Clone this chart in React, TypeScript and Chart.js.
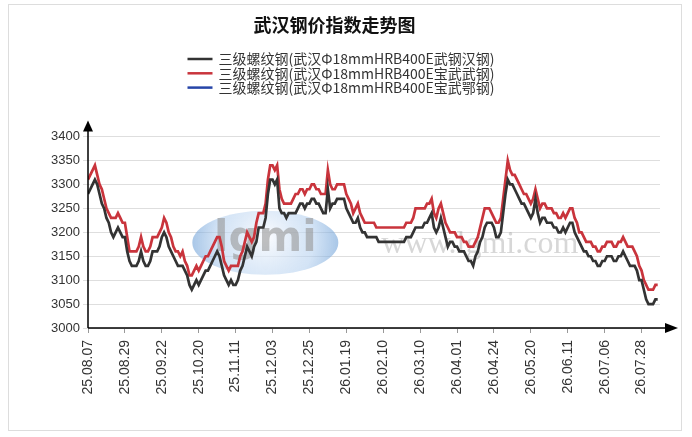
import React, { useEffect, useRef } from 'react';
import { Chart, registerables } from 'chart.js';

Chart.register(...registerables);

// one label every 16 trading days
const TICK_EVERY = 16;
const tickLabels = [
  '25.08.07', '25.08.29', '25.09.22', '25.10.20', '25.11.11', '25.12.03', '25.12.25', '26.01.19',
  '26.02.10', '26.03.10', '26.04.01', '26.04.24', '26.05.20', '26.06.11', '26.07.06', '26.07.28',
];

const seriesNames = [
  '三级螺纹钢(武汉Φ18mmHRB400E武钢汉钢)',
  '三级螺纹钢(武汉Φ18mmHRB400E宝武武钢)',
  '三级螺纹钢(武汉Φ18mmHRB400E宝武鄂钢)',
];

// 武钢汉钢
const wugangHangang = [
  3280, 3290, 3300, 3310, 3300, 3280, 3260, 3250, 3230, 3220,
  3200, 3190, 3200, 3210, 3200, 3190, 3190, 3160, 3140, 3130,
  3130, 3130, 3140, 3160, 3140, 3130, 3130, 3140, 3160, 3160,
  3160, 3170, 3190, 3200, 3190, 3170, 3160, 3150, 3140, 3130,
  3130, 3130, 3120, 3110, 3090, 3080, 3090, 3100, 3090, 3100,
  3110, 3120, 3120, 3130, 3140, 3150, 3160, 3150, 3130, 3110,
  3100, 3090, 3100, 3090, 3090, 3100, 3120, 3130, 3150, 3170,
  3160, 3150, 3170, 3180, 3210, 3210, 3210, 3230, 3280, 3310,
  3310, 3300, 3310, 3250, 3240, 3240, 3230, 3240, 3240, 3240,
  3240, 3250, 3260, 3260, 3250, 3260, 3260, 3270, 3270, 3260,
  3260, 3250, 3240, 3240, 3290, 3250, 3260, 3260, 3270, 3270,
  3270, 3270, 3250, 3240, 3230, 3220, 3220, 3230, 3210, 3200,
  3200, 3190, 3190, 3190, 3190, 3190, 3180, 3180, 3180, 3180,
  3180, 3180, 3180, 3180, 3180, 3180, 3180, 3180, 3190, 3190,
  3190, 3200, 3210, 3210, 3210, 3210, 3220, 3220, 3230, 3240,
  3210, 3200, 3210, 3230, 3210, 3190, 3170, 3180, 3180, 3170,
  3170, 3160, 3160, 3160, 3150, 3140, 3140, 3130, 3150, 3160,
  3180, 3190, 3210, 3220, 3220, 3220, 3210, 3190, 3190, 3200,
  3240, 3280, 3310, 3300, 3300, 3290, 3280, 3270, 3260, 3260,
  3250, 3240, 3230, 3240, 3270, 3240, 3220, 3230, 3230, 3220,
  3220, 3220, 3210, 3210, 3200, 3200, 3210, 3200, 3210, 3220,
  3220, 3200, 3190, 3180, 3170, 3160, 3160, 3150, 3150, 3140,
  3140, 3130, 3130, 3140, 3140, 3150, 3150, 3150, 3140, 3140,
  3150, 3150, 3160, 3150, 3140, 3130, 3130, 3130, 3120, 3100,
  3100, 3080, 3060, 3050, 3050, 3050, 3060, 3060,
];

// 宝武武钢
const baowuWugang = [
  3310, 3320, 3330, 3340, 3320, 3300, 3290, 3270, 3250, 3240,
  3230, 3230, 3230, 3240, 3230, 3220, 3220, 3190, 3160, 3160,
  3160, 3160, 3170, 3190, 3170, 3160, 3160, 3170, 3190, 3190,
  3190, 3200, 3210, 3230, 3220, 3200, 3190, 3170, 3160, 3160,
  3150, 3160, 3140, 3130, 3110, 3110, 3120, 3130, 3120, 3130,
  3140, 3150, 3150, 3160, 3170, 3180, 3190, 3190, 3170, 3140,
  3130, 3120, 3130, 3130, 3130, 3130, 3150, 3160, 3180, 3200,
  3190, 3180, 3190, 3220, 3240, 3240, 3240, 3260, 3310, 3340,
  3340, 3330, 3340, 3290, 3270, 3260, 3260, 3260, 3260, 3270,
  3280, 3280, 3290, 3290, 3280, 3290, 3290, 3300, 3300, 3290,
  3290, 3280, 3280, 3280, 3330, 3300, 3290, 3290, 3300, 3300,
  3300, 3300, 3280, 3270, 3260, 3240, 3250, 3260, 3240, 3230,
  3220, 3220, 3220, 3220, 3220, 3210, 3210, 3210, 3210, 3210,
  3210, 3210, 3210, 3210, 3210, 3210, 3210, 3210, 3220, 3220,
  3220, 3230, 3250, 3250, 3250, 3250, 3250, 3260, 3260, 3270,
  3240, 3230, 3250, 3260, 3240, 3220, 3210, 3200, 3200, 3200,
  3190, 3190, 3190, 3180, 3180, 3170, 3170, 3170, 3180, 3190,
  3210, 3230, 3250, 3250, 3250, 3240, 3230, 3220, 3220, 3230,
  3270, 3310, 3350, 3330, 3320, 3320, 3310, 3300, 3290, 3280,
  3280, 3270, 3260, 3270, 3290, 3270, 3250, 3260, 3260, 3250,
  3250, 3250, 3240, 3240, 3230, 3230, 3240, 3230, 3240, 3250,
  3250, 3230, 3220, 3200, 3200, 3190, 3180, 3180, 3180, 3170,
  3170, 3160, 3160, 3170, 3170, 3180, 3180, 3180, 3170, 3170,
  3180, 3180, 3190, 3180, 3170, 3170, 3170, 3160, 3150, 3130,
  3120, 3100, 3090, 3080, 3080, 3080, 3090, 3090,
];

// 宝武鄂钢: no values shown in the chart
const baowuEgang: number[] = [];

const toPoints = (arr: number[]) => arr.map((y, x) => ({ x, y }));

// watermark behind the lines
const watermark = {
  id: 'watermark',
  beforeDatasetsDraw(chart: any) {
    const { ctx, chartArea: a } = chart;
    const w = a.right - a.left;
    const h = a.bottom - a.top;
    const cx = a.left + w * 0.31;
    const cy = a.top + h * 0.555;
    ctx.save();
    const g = ctx.createRadialGradient(cx, cy - 6, 4, cx, cy, 78);
    g.addColorStop(0, 'rgba(245,248,253,0.75)');
    g.addColorStop(0.6, 'rgba(175,205,238,0.55)');
    g.addColorStop(1, 'rgba(95,150,210,0.6)');
    ctx.fillStyle = g;
    ctx.beginPath();
    ctx.ellipse(cx, cy, 73, 32, 0, 0, Math.PI * 2);
    ctx.fill();
    ctx.textAlign = 'center';
    ctx.textBaseline = 'middle';
    ctx.font = 'bold 42px "DejaVu Sans"';
    ctx.fillStyle = 'rgba(150,150,150,0.6)';
    ctx.fillText('lgmi', cx, cy - 3);
    ctx.font = '32px "Liberation Serif"';
    ctx.fillStyle = 'rgba(140,140,140,0.35)';
    ctx.fillText('www.lgmi.com', a.left + w * 0.685, a.top + h * 0.565);
    ctx.restore();
  },
};

// black axis lines with arrow heads
const axisArrows = {
  id: 'axisArrows',
  afterDatasetsDraw(chart: any) {
    const { ctx, chartArea: { left, right, top, bottom } } = chart;
    ctx.save();
    ctx.strokeStyle = '#000';
    ctx.fillStyle = '#000';
    ctx.lineWidth = 1.5;
    ctx.beginPath();
    ctx.moveTo(left, bottom);
    ctx.lineTo(left, top - 6);
    ctx.moveTo(left, bottom);
    ctx.lineTo(right + 6, bottom);
    ctx.stroke();
    ctx.beginPath();
    ctx.moveTo(left, top - 16);
    ctx.lineTo(left - 5, top - 5);
    ctx.lineTo(left + 5, top - 5);
    ctx.closePath();
    ctx.fill();
    ctx.beginPath();
    ctx.moveTo(right + 18, bottom);
    ctx.lineTo(right + 5, bottom - 5);
    ctx.lineTo(right + 5, bottom + 5);
    ctx.closePath();
    ctx.fill();
    ctx.restore();
  },
};

// legend: one series per row, centred under the title
const stackedLegend = {
  id: 'stackedLegend',
  afterDraw(chart: any) {
    const { ctx } = chart;
    const sets = chart.data.datasets;
    ctx.save();
    ctx.font = '14px "Noto Sans CJK SC"';
    const textW = Math.max(...sets.map((d: any) => ctx.measureText(d.label).width));
    const blockW = 31 + textW;
    const x0 = (chart.width - blockW) / 2 - 4;
    sets.forEach((d: any, i: number) => {
      const y = 54 + i * 14.3;
      ctx.strokeStyle = d.borderColor;
      ctx.lineWidth = 2.5;
      ctx.beginPath();
      ctx.moveTo(x0, y);
      ctx.lineTo(x0 + 25, y);
      ctx.stroke();
      ctx.fillStyle = '#333';
      ctx.textAlign = 'left';
      ctx.textBaseline = 'middle';
      ctx.fillText(d.label, x0 + 31, y);
    });
    ctx.restore();
  },
};

export default function App() {
  const ref = useRef<HTMLCanvasElement | null>(null);

  useEffect(() => {
    if (!ref.current) return;
    Chart.defaults.font.family = '"Liberation Sans", Arial, sans-serif';

    const chart = new Chart(ref.current, {
      type: 'line',
      data: {
        datasets: [
          { label: seriesNames[0], data: toPoints(wugangHangang), borderColor: '#333333' },
          { label: seriesNames[1], data: toPoints(baowuWugang), borderColor: '#c9343c' },
          { label: seriesNames[2], data: toPoints(baowuEgang), borderColor: '#2645a8' },
        ].map((d) => ({ ...d, borderWidth: 2.7, pointRadius: 0, tension: 0, fill: false })),
      },
      options: {
        animation: false,
        responsive: true,
        maintainAspectRatio: false,
        events: [],
        layout: { padding: { left: 0, right: 21, top: 0, bottom: 0 } },
        plugins: {
          legend: { display: false },
          tooltip: { enabled: false },
          title: {
            display: true,
            text: '武汉钢价指数走势图',
            color: '#111',
            font: { size: 18, weight: 'bold' as any, family: '"Noto Sans CJK SC"' },
            padding: { top: 9, bottom: 101 },
          },
        },
        scales: {
          x: {
            type: 'linear',
            min: 0,
            max: 248,
            afterFit: (s: any) => { s.height = 102; },
            border: { display: false },
            grid: { drawOnChartArea: false, tickLength: 5, color: '#999' },
            ticks: {
              stepSize: TICK_EVERY,
              includeBounds: false,
              autoSkip: false,
              maxRotation: 90,
              minRotation: 90,
              padding: 7,
              color: '#333',
              font: { size: 14 },
              callback: (v: any) => (v % TICK_EVERY === 0 ? tickLabels[v / TICK_EVERY] ?? null : null),
            },
          },
          y: {
            min: 3000,
            max: 3400,
            afterFit: (s: any) => { s.width = 79; },
            border: { display: false },
            grid: { color: '#dedede', tickLength: 5 },
            ticks: {
              stepSize: 50,
              padding: 3,
              color: '#333',
              font: { size: 13 },
              callback: (v: any) => String(v),
            },
          },
        },
      },
      plugins: [watermark, axisArrows, stackedLegend],
    });

    return () => chart.destroy();
  }, []);

  return (
    <div
      style={{
        position: 'absolute',
        left: 8,
        top: 4,
        width: 672,
        height: 425,
        border: '1px solid #ddd',
        background: '#fff',
      }}
    >
      <canvas ref={ref} />
    </div>
  );
}
